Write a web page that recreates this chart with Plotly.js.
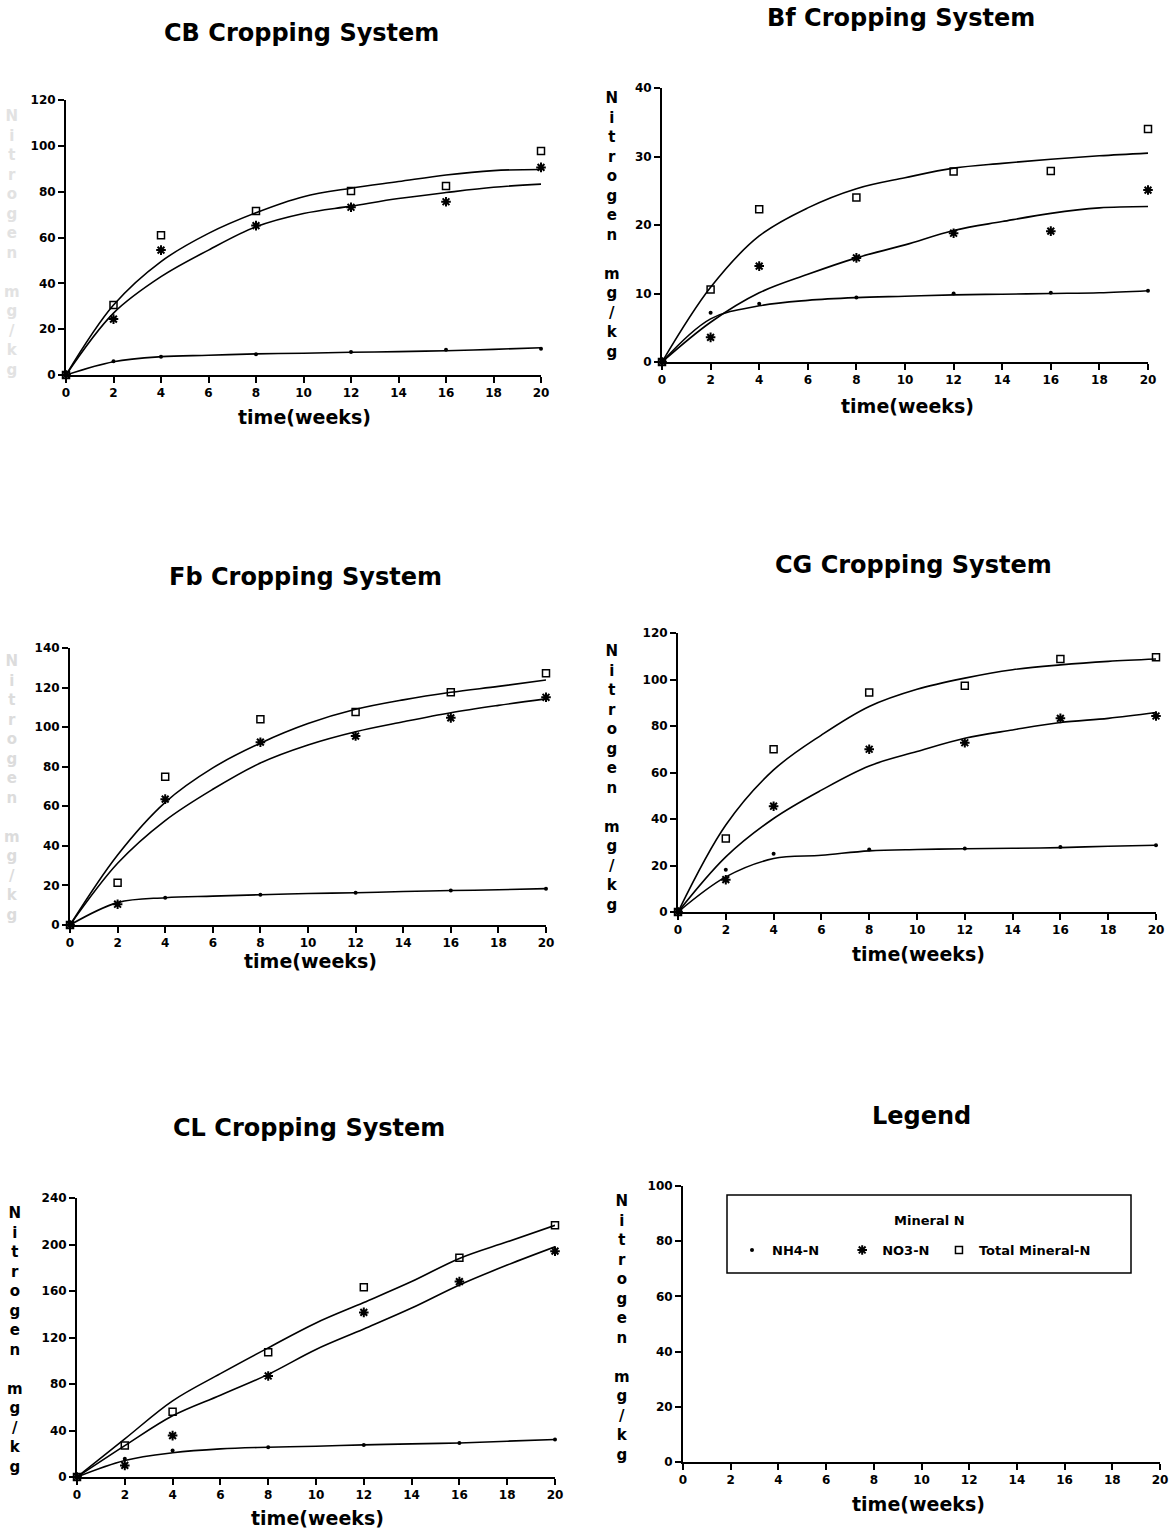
<!DOCTYPE html>
<html>
<head>
<meta charset="utf-8">
<script src="https://cdn.plot.ly/plotly-3.0.1.min.js"></script>
<style>html,body{margin:0;padding:0;background:#fff;}#chart{width:1174px;height:1532px;}</style>
</head>
<body>
<div id="chart"></div>
<script>
// ---- data ----
const weeks = [0, 2, 4, 8, 12, 16, 20];
const fitWeeks = [0, 2, 4, 6, 8, 10, 12, 14, 16, 18, 20];

const panelTitles = ["CB Cropping System", "Bf Cropping System", "Fb Cropping System", "CG Cropping System", "CL Cropping System", "Legend"];
const seriesNames = ["NH4-N", "NO3-N", "Total Mineral-N"];
const legendTitle = "Mineral N";
const xTitle = "time(weeks)";
const yTitle = "Nitrogen mg/kg";

// CB
const cbNH4 = [0, 6, 8, 9, 10, 11, 11.5];
const cbNO3 = [0, 24.4, 54.5, 65.2, 73.2, 75.6, 90.6];
const cbTotal = [0, 30.5, 61, 71.6, 80.3, 82.5, 97.7];
const cbNH4Fit = [0, 5.8, 8, 8.6, 9.2, 9.5, 9.9, 10.2, 10.6, 11.2, 11.9];
const cbNO3Fit = [0, 27, 42.9, 54.5, 64.7, 70.5, 73.7, 77, 79.6, 81.9, 83.3];
const cbTotalFit = [0, 30.5, 49.5, 61.8, 70.8, 77.8, 81.5, 84.4, 87.3, 89.2, 89.7];

// Bf
const bfNH4 = [0, 7.2, 8.5, 9.4, 10, 10.1, 10.4];
const bfNO3 = [0, 3.6, 14, 15.2, 18.8, 19.1, 25.1];
const bfTotal = [0, 10.6, 22.3, 24, 27.8, 27.9, 34];
const bfNH4Fit = [0, 6.3, 8.2, 9, 9.4, 9.6, 9.8, 9.9, 10, 10.1, 10.4];
const bfNO3Fit = [0, 5.8, 10.1, 12.8, 15.2, 17.1, 19.2, 20.5, 21.7, 22.5, 22.7];
const bfTotalFit = [0, 10.9, 18.4, 22.5, 25.3, 26.9, 28.3, 29, 29.6, 30.1, 30.5];

// Fb
const fbNH4 = [0, 10.5, 13.8, 15.3, 16.3, 17.4, 18.3];
const fbNO3 = [0, 10.5, 63.6, 92.4, 95.5, 104.7, 115.1];
const fbTotal = [0, 21.3, 74.9, 104, 107.6, 117.6, 127.2];
const fbNH4Fit = [0, 11.3, 13.8, 14.6, 15.3, 15.9, 16.3, 16.9, 17.4, 17.8, 18.4];
const fbNO3Fit = [0, 31.2, 52.8, 68.6, 81.9, 91, 97.7, 102.7, 107.3, 111, 114.3];
const fbTotalFit = [0, 35.4, 62, 79.4, 91.9, 101.8, 109, 113.8, 117.6, 120.6, 123.8];

// CG
const cgNH4 = [0, 18.2, 25.1, 26.9, 27.3, 28, 28.7];
const cgNO3 = [0, 13.9, 45.5, 70, 72.8, 83.3, 84.3];
const cgTotal = [0, 31.6, 70, 94.4, 97.3, 108.8, 109.6];
const cgNH4Fit = [0, 15.1, 23, 24.4, 26.3, 26.9, 27.2, 27.4, 27.7, 28.3, 28.7];
const cgNO3Fit = [0, 23.7, 40.2, 52.4, 62.8, 69, 74.7, 78.3, 81.5, 83.3, 85.8];
const cgTotalFit = [0, 37.4, 61.1, 76.1, 88.4, 95.8, 100.6, 104.2, 106.3, 107.8, 108.8];

// CL
const clNH4 = [0, 15.7, 22.8, 25.6, 27.6, 29.3, 32.2];
const clNO3 = [0, 10, 35.6, 86.9, 141.6, 168.1, 194.3];
const clTotal = [0, 27.1, 56.1, 107.4, 163.2, 188.6, 216.5];
const clNH4Fit = [0, 14.2, 20.8, 24.2, 25.6, 26.5, 27.6, 28.5, 29.3, 30.8, 32.2];
const clNO3Fit = [0, 27, 52.7, 70.4, 88.3, 109.7, 127.3, 145.3, 165.2, 182.3, 198];
const clTotalFit = [0, 32.8, 65.5, 88.9, 111.1, 132.5, 150.1, 168.1, 188, 202.3, 216.5];

const xTicks = [0, 2, 4, 6, 8, 10, 12, 14, 16, 18, 20];
const yMax = [120, 40, 140, 120, 240, 100];
const yStep = [20, 10, 20, 20, 40, 20];

// ---- layout geometry (pixels in a 1174x1532 page) ----
const W = 1174, H = 1532;
const boxes = [ // [left, right, top, bottom] of plot area
  [66, 541, 100, 375],
  [662, 1148, 88, 362],
  [70, 546, 648, 925],
  [678, 1156, 633, 912],
  [77, 555, 1198, 1477],
  [683, 1160, 1186, 1462]
];
const titlePos = [[301, 33], [901, 18], [305, 577], [913, 565], [309, 1128], [921, 1116]];
const xTitlePos = [[304, 417], [907, 406], [310, 961], [918, 954], [317, 1518], [918, 1504]];
const yTitlePos = [[12, 243, '#e2e2e2'], [612, 225, '#000'], [12, 788, '#dcdcdc'], [612, 778, '#000'], [15, 1340, '#000'], [622, 1328, '#000']];
const legendPad = [4, 1, 0]; // extra spacing after each legend entry (in non-breaking spaces)

const panels = [
  [cbNH4, cbNO3, cbTotal, cbNH4Fit, cbNO3Fit, cbTotalFit],
  [bfNH4, bfNO3, bfTotal, bfNH4Fit, bfNO3Fit, bfTotalFit],
  [fbNH4, fbNO3, fbTotal, fbNH4Fit, fbNO3Fit, fbTotalFit],
  [cgNH4, cgNO3, cgTotal, cgNH4Fit, cgNO3Fit, cgTotalFit],
  [clNH4, clNO3, clTotal, clNH4Fit, clNO3Fit, clTotalFit]
];

const FONT = "DejaVu Sans, Verdana, sans-serif";
const markerStyles = [
  {symbol: 'circle', size: 4, color: '#000'},
  {symbol: 'asterisk-open', size: 8, color: '#000', line: {width: 2, color: '#000'}},
  {symbol: 'square-open', size: 7, color: '#000', line: {width: 1.5, color: '#000'}}
];

const traces = [];
const layout = {
  width: W, height: H,
  margin: {l: 0, r: 0, t: 0, b: 0},
  paper_bgcolor: '#fff', plot_bgcolor: '#fff',
  font: {family: FONT, color: '#000'},
  showlegend: true,
  legend: {
    orientation: 'h',
    x: 732 / W, y: 1 - 1235 / H, xanchor: 'left', yanchor: 'top',
    borderwidth: 0, bgcolor: 'rgba(255,255,255,0)',
    font: {family: FONT, size: 13, weight: 'bold', color: '#000'},
    itemwidth: 30
  },
  annotations: [{
    xref: 'paper', yref: 'paper', x: 930 / W, y: 1 - 1220 / H,
    xanchor: 'center', yanchor: 'middle', showarrow: false,
    text: legendTitle, font: {family: FONT, size: 13, weight: 'bold', color: '#000'}
  }],
  shapes: [{
    type: 'rect', xref: 'paper', yref: 'paper',
    x0: 727 / W, x1: 1131 / W, y0: 1 - 1273 / H, y1: 1 - 1195 / H,
    line: {color: '#000', width: 1.5}, fillcolor: 'rgba(0,0,0,0)'
  }]
};

for (let i = 0; i < 6; i++) {
  const n = i + 1;
  const xa = 'x' + (n === 1 ? '' : n), ya = 'y' + (n === 1 ? '' : n);
  const xk = 'xaxis' + (n === 1 ? '' : n), yk = 'yaxis' + (n === 1 ? '' : n);
  const b = boxes[i];
  const yTicks = [];
  for (let v = 0; v <= yMax[i]; v += yStep[i]) yTicks.push(v);
  const common = {
    showline: true, linecolor: '#000', linewidth: 2,
    ticks: 'outside', ticklen: 6, tickwidth: 2, tickcolor: '#000',
    showgrid: false, zeroline: false, fixedrange: true,
    tickfont: {family: FONT, size: 12, weight: 'bold', color: '#000'}
  };
  layout[xk] = Object.assign({}, common, {
    domain: [b[0] / W, b[1] / W], anchor: ya, range: [0, 20],
    tickmode: 'array', tickvals: xTicks, ticktext: xTicks.map(String)
  });
  layout[yk] = Object.assign({}, common, {
    domain: [1 - b[3] / H, 1 - b[2] / H], anchor: xa, range: [0, yMax[i]],
    tickmode: 'array', tickvals: yTicks, ticktext: yTicks.map(String)
  });

  // titles
  layout.annotations.push({
    xref: 'paper', yref: 'paper', x: titlePos[i][0] / W, y: 1 - titlePos[i][1] / H,
    xanchor: 'center', yanchor: 'middle', showarrow: false,
    text: panelTitles[i], font: {family: FONT, size: 24, weight: 'bold', color: '#000'}
  });
  layout.annotations.push({
    xref: 'paper', yref: 'paper', x: xTitlePos[i][0] / W, y: 1 - xTitlePos[i][1] / H,
    xanchor: 'center', yanchor: 'middle', showarrow: false,
    text: xTitle, font: {family: FONT, size: 19, weight: 'bold', color: '#000'}
  });
  layout.annotations.push({
    xref: 'paper', yref: 'paper', x: yTitlePos[i][0] / W, y: 1 - yTitlePos[i][1] / H,
    xanchor: 'center', yanchor: 'middle', showarrow: false,
    text: yTitle.split('').map(c => c === ' ' ? '&nbsp;' : c).join('<br>'),
    font: {family: FONT, size: 15, weight: 'bold', color: yTitlePos[i][2]}
  });

  if (i < 5) {
    const d = panels[i];
    for (let s = 0; s < 3; s++) {
      traces.push({
        type: 'scatter', mode: 'lines', x: fitWeeks, y: d[3 + s], xaxis: xa, yaxis: ya,
        line: {color: '#000', width: 1.6, shape: 'spline', smoothing: 1},
        showlegend: false, hoverinfo: 'skip', cliponaxis: false
      });
    }
    for (let s = 0; s < 3; s++) {
      traces.push({
        type: 'scatter', mode: 'markers', x: weeks, y: d[s], xaxis: xa, yaxis: ya,
        name: seriesNames[s] + '\u00a0'.repeat(legendPad[s]),
        legendgroup: seriesNames[s], showlegend: i === 0,
        marker: markerStyles[s], cliponaxis: false
      });
    }
  } else {
    traces.push({type: 'scatter', mode: 'markers', x: [], y: [], xaxis: xa, yaxis: ya, showlegend: false});
  }
}

Plotly.newPlot('chart', traces, layout, {staticPlot: true, displayModeBar: false});
</script>
</body>
</html>
